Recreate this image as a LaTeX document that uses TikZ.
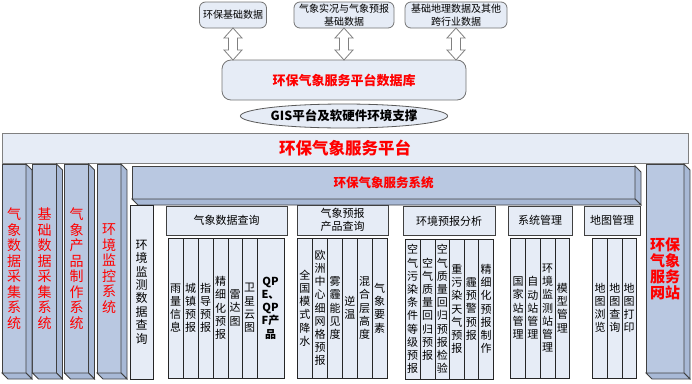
\documentclass[tikz,border=0pt]{standalone}
\usepackage{fontspec}
\setmainfont{Noto Sans CJK SC}
\usetikzlibrary{positioning}
\usetikzlibrary{calc}
\usetikzlibrary{shapes.geometric}
\definecolor{paleblue}{RGB}{230,236,246}
\definecolor{slabblue}{RGB}{185,200,225}
\definecolor{slabshade}{RGB}{168,185,214}

\begin{document}
\begin{tikzpicture}[
    x=1pt, y=-1pt,
    databox/.style={
      draw=black!55,
      fill=paleblue,
      line width=0.8pt,
      rounded corners=6pt,
      inner sep=1pt,
      outer sep=0pt,
      align=center,
      font=\fontsize{10}{12.5}\selectfont
    },
    dblarrow/.style={
      draw=black!50,
      fill=white,
      line width=0.8pt
    },
    slab/.style={
      draw=black!75,
      fill=slabblue,
      line width=0.8pt,
      inner sep=0pt,
      outer sep=0pt,
      align=center,
      text=red,
      font=\fontsize{14}{15.5}\selectfont
    },
    slabside/.style={
      draw=black!75,
      fill=slabshade,
      line width=0.8pt
    },
    header/.style={
      draw=black!75,
      fill=paleblue,
      line width=0.8pt,
      minimum height=29pt,
      inner sep=0pt,
      outer sep=0pt,
      align=center,
      font=\fontsize{11}{13}\selectfont
    },
    column/.style={
      draw=black!85,
      fill=paleblue,
      line width=0.7pt,
      minimum height=140pt,
      inner sep=0pt,
      outer sep=0pt,
      align=center,
      font=\fontsize{11}{13.2}\selectfont
    }
  ]
  \useasboundingbox (0,0) rectangle (692,383);

  % data sources and database
  \node[databox, minimum width=67pt, minimum height=26pt] (envbase) at (233,15) {环保基础数据};
  \node[databox, minimum width=100pt, minimum height=26pt] (metbase) at (344,15) {气象实况与气象预报\\基础数据};
  \node[databox, minimum width=102pt, minimum height=26pt] (geobase) at (456,15) {基础地理数据及其他\\跨行业数据};

  \node[databox, rounded corners=9pt, minimum width=244pt, minimum height=40pt,
        text=red, font=\fontsize{13}{15}\selectfont\bfseries] (db) at (344,80) {环保气象服务平台数据库};

  \foreach \src in {envbase,metbase,geobase}
    \draw[dblarrow] (\src.south) -- ++(9,10) -- ++(-4.5,0) -- ++(0,12) -- ++(4.5,0) -- ++(-9,10)
      -- ++(-9,-10) -- ++(4.5,0) -- ++(0,-12) -- ++(-4.5,0) -- cycle;

  \node[ellipse, draw=black!65, fill=paleblue, line width=0.8pt, minimum width=197pt, minimum height=24pt,
        inner sep=0pt, font=\fontsize{12.5}{14}\selectfont\bfseries] (gis) at (344,116) {GIS平台及软硬件环境支撑};

  % platform
  \node[draw=black!50, fill=paleblue, line width=1pt, minimum width=686pt, minimum height=30pt,
        outer sep=0pt, text=red, font=\fontsize{16.5}{18}\selectfont\bfseries] (platform) at (345,148) {环保气象服务平台};

  \node[slab, minimum width=24pt, minimum height=209pt] (metacq) at (14,268.5) {气\\象\\数\\据\\采\\集\\系\\统};
  \node[slab, minimum width=24pt, minimum height=209pt] (baseacq) at (44.5,268.5) {基\\础\\数\\据\\采\\集\\系\\统};
  \node[slab, minimum width=24pt, minimum height=209pt] (prodsys) at (76.5,268.5) {气\\象\\产\\品\\制\\作\\系\\统};
  \node[slab, minimum width=24pt, minimum height=209pt] (envmon) at (109,268.5) {环\\境\\监\\控\\系\\统};
  \node[slab, minimum width=38pt, minimum height=209pt,
        font=\fontsize{15}{16}\selectfont\bfseries] (website) at (665,268.5) {环保\\气象\\服务\\网站};
  \node[slab, minimum width=503pt, minimum height=33pt,
        font=\fontsize{12.5}{14}\selectfont\bfseries] (svcsys) at (383.5,182.5) {环保气象服务系统};

  \foreach \s in {metacq,baseacq,prodsys,envmon,website,svcsys} {
    \draw[slabside] (\s.north east) -- ++(6,6) -- ($(\s.south east)+(6,6)$) -- (\s.south east) -- cycle;
    \draw[slabside] (\s.south west) -- ++(6,6) -- ($(\s.south east)+(6,6)$) -- (\s.south east) -- cycle;
  }

  % service system modules
  \node[column, minimum width=23pt, minimum height=174pt, font=\fontsize{12}{13.4}\selectfont] (envquery) at (141.5,292)
    {环\\境\\监\\测\\数\\据\\查\\询};

  \node[header, minimum width=121pt] (metquery) at (226.5,220.5) {气象数据查询};
  \node[header, minimum width=91pt, minimum height=30pt] (fcstquery) at (342.5,220) {气象预报\\产品查询};
  \node[header, minimum width=92pt] (envfcst) at (449,221) {环境预报分析};
  \node[header, minimum width=64pt] (sysmgmt) at (540,220.5) {系统管理};
  \node[header, minimum width=56pt] (mapmgmt) at (612,220.5) {地图管理};

  \foreach \xa/\xb/\txt [count=\k] in {168/183/{雨\\量\\信\\息}, 183/198/{城\\镇\\预\\报}, 198/213/{指\\导\\预\\报},
      213/228/{精\\细\\化\\预\\报}, 228/242/{雷\\达\\图}, 242/257/{卫\\星\\云\\图}, 257/284/{\bfseries QP\\\bfseries E、\\\bfseries QP\\\bfseries F产\\\bfseries 品}}
    \node[column, minimum width={(\xb-\xa)*1pt}] (metq\k) at ({(\xa+\xb)/2},308) {\txt};

  \foreach \xa/\xb/\txt [count=\k] in {297/312.5/{全\\国\\模\\式\\降\\水}, 312.5/327.5/{欧\\洲\\中\\心\\细\\网\\格\\预\\报},
      327.5/342.5/{雾\\霾\\能\\见\\度}, 342.5/357/{逆\\温}, 357/372/{混\\合\\层\\高\\度}, 372/387/{气\\象\\要\\素}}
    \node[column, minimum width={(\xb-\xa)*1pt}] (fcstq\k) at ({(\xa+\xb)/2},308) {\txt};

  \foreach \xa/\xb/\txt [count=\k] in {405/420/{空\\气\\污\\染\\条\\件\\等\\级\\预\\报}, 420/435/{空\\气\\质\\量\\回\\归\\预\\报},
      435/449.5/{空\\气\\质\\量\\回\\归\\预\\报\\检\\验}, 449.5/464/{重\\污\\染\\天\\气\\预\\报},
      464/478.5/{霾\\预\\警\\预\\报}, 478.5/493.5/{精\\细\\化\\预\\报\\制\\作}}
    \node[column, minimum width={(\xb-\xa)*1pt}] (envf\k) at ({(\xa+\xb)/2},309) {\txt};

  \foreach \xa/\xb/\txt [count=\k] in {510.5/525.5/{国\\家\\站\\管\\理}, 525.5/540/{自\\动\\站\\管\\理},
      540/555/{环\\境\\监\\测\\站\\管\\理}, 555/569.5/{模\\型\\管\\理}}
    \node[column, minimum width={(\xb-\xa)*1pt}] (sysm\k) at ({(\xa+\xb)/2},308) {\txt};

  \foreach \xa/\xb/\txt [count=\k] in {592.5/607.5/{地\\图\\浏\\览}, 607.5/622/{地\\图\\查\\询}, 622/636/{地\\图\\打\\印}}
    \node[column, minimum width={(\xb-\xa)*1pt}] (mapm\k) at ({(\xa+\xb)/2},308) {\txt};

\end{tikzpicture}
\end{document}
